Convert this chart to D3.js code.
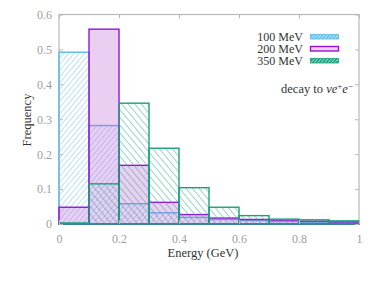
<!DOCTYPE html>
<html>
<head>
<meta charset="utf-8">
<script src="https://cdn.jsdelivr.net/npm/d3@7"></script>
<style>
  body { margin: 0; background: #fff; }
  svg text { font-family: "Liberation Serif", "DejaVu Serif", serif; }
</style>
</head>
<body>
<div id="chart"></div>
<script>
// bin lower edges (GeV), bins are 0.1 wide
const binStarts = [0, 0.1, 0.2, 0.3, 0.4, 0.5, 0.6, 0.7, 0.8, 0.9];
const binWidth = 0.1;

const freq100 = [0.492, 0.282, 0.058, 0.032, 0.019, 0.013, 0.010, 0.007, 0.005, 0.004];
const freq200 = [0.048, 0.558, 0.168, 0.062, 0.027, 0.017, 0.013, 0.011, 0.008, 0.006];
const freq350 = [0.003, 0.115, 0.346, 0.217, 0.104, 0.048, 0.024, 0.014, 0.012, 0.009];

const seriesNames = ["100 MeV", "200 MeV", "350 MeV"];
const xTicks = [0, 0.2, 0.4, 0.6, 0.8, 1];
const yTicks = [0, 0.1, 0.2, 0.3, 0.4, 0.5, 0.6];

const width = 374, height = 281;
const margin = { top: 14.5, right: 15, bottom: 57, left: 59 };
const innerWidth = width - margin.left - margin.right;
const innerHeight = height - margin.top - margin.bottom;

const svg = d3.select("#chart").append("svg")
  .attr("width", width)
  .attr("height", height);

const defs = svg.append("defs");

function hatch(id, color, angle, gap, bg) {
  const p = defs.append("pattern")
    .attr("id", id)
    .attr("patternUnits", "userSpaceOnUse")
    .attr("width", gap).attr("height", gap)
    .attr("patternTransform", "rotate(" + angle + ")");
  if (bg) p.append("rect").attr("width", gap).attr("height", gap).attr("fill", bg);
  p.append("line")
    .attr("x1", 0).attr("y1", 0).attr("x2", 0).attr("y2", gap)
    .attr("stroke", color).attr("stroke-width", 1);
}
hatch("hatch-blue", "#74c6f0", 40, 4);
hatch("hatch-green", "#2fb08a", -40, 5);
hatch("hatch-blue-leg", "#ffffff", 40, 2.6, "#6cc3ee");
hatch("hatch-green-leg", "#ffffff", 40, 2.6, "#1fa57f");

const g = svg.append("g").attr("transform", `translate(${margin.left},${margin.top})`);

const x = d3.scaleLinear().domain([0, 1]).range([0, innerWidth]);
const y = d3.scaleLinear().domain([0, 0.6]).range([innerHeight, 0]);

// frame
g.append("rect")
  .attr("width", innerWidth).attr("height", innerHeight)
  .attr("fill", "none").attr("stroke", "#b8b8b8").attr("stroke-width", 1.2);

const series = [
  { name: seriesNames[0], values: freq100, stroke: "#5ab8e8", fill: "url(#hatch-blue)", sw: 1.4 },
  { name: seriesNames[1], values: freq200, stroke: "#9a12d8", fill: "rgba(185,95,215,0.3)", sw: 1.4 },
  { name: seriesNames[2], values: freq350, stroke: "#1aa07a", fill: "url(#hatch-green)", sw: 1.4 }
];

series.forEach(s => {
  g.append("g").selectAll("rect")
    .data(binStarts.map((b, i) => ({ b, v: s.values[i] })))
    .join("rect")
    .attr("x", d => x(d.b))
    .attr("width", d => x(d.b + binWidth) - x(d.b))
    .attr("y", d => y(d.v))
    .attr("height", d => y(0) - y(d.v))
    .attr("fill", s.fill)
    .attr("stroke", s.stroke)
    .attr("stroke-width", s.sw);
});

// axes (ticks inward, mirrored)
const tickStyle = sel => {
  sel.attr("font-family", null).attr("font-size", null);
  sel.select(".domain").remove();
  sel.selectAll(".tick line").attr("stroke", "#b8b8b8");
  sel.selectAll(".tick text").attr("fill", "#a0a0a0").attr("font-size", 12);
};
const mirrorStyle = sel => {
  sel.select(".domain").remove();
  sel.selectAll(".tick line").attr("stroke", "#b8b8b8");
  sel.selectAll(".tick text").remove();
};
g.append("g").attr("transform", `translate(0,${innerHeight})`)
  .call(d3.axisBottom(x).tickValues(xTicks).tickSize(-4).tickPadding(10).tickFormat(d3.format("~g")))
  .call(tickStyle);
g.append("g")
  .call(d3.axisTop(x).tickValues(xTicks).tickSize(-4))
  .call(mirrorStyle);
g.append("g")
  .call(d3.axisLeft(y).tickValues(yTicks).tickSize(-4).tickPadding(7).tickFormat(d3.format("~g")))
  .call(tickStyle);
g.append("g").attr("transform", `translate(${innerWidth},0)`)
  .call(d3.axisRight(y).tickValues(yTicks).tickSize(-4))
  .call(mirrorStyle);

// axis titles
svg.append("text")
  .attr("x", 203).attr("y", 257)
  .attr("text-anchor", "middle").attr("font-size", 12.5).attr("fill", "#333")
  .text("Energy (GeV)");
svg.append("text")
  .attr("transform", "translate(31,120) rotate(-90)")
  .attr("text-anchor", "middle").attr("font-size", 12.5).attr("fill", "#333")
  .text("Frequency");

// legend
const legFills = ["url(#hatch-blue-leg)", "rgba(185,95,215,0.3)", "url(#hatch-green-leg)"];
const leg = svg.append("g");
series.forEach((s, i) => {
  const yy = 41 + i * 12;
  leg.append("text")
    .attr("x", 303).attr("y", yy)
    .attr("text-anchor", "end").attr("font-size", 12).attr("fill", "#333")
    .text(s.name);
  leg.append("rect")
    .attr("x", 310.5).attr("y", yy - 6.5)
    .attr("width", 28).attr("height", 4.5)
    .attr("fill", legFills[i])
    .attr("stroke", s.stroke).attr("stroke-width", i === 1 ? 1.4 : 0.8);
});
const note = svg.append("text")
  .attr("x", 353).attr("y", 93)
  .attr("text-anchor", "end").attr("font-size", 12.5).attr("fill", "#333");
note.append("tspan").text("decay to ");
note.append("tspan").attr("font-style", "italic").text("νe");
note.append("tspan").attr("dy", -4).attr("font-size", 9).text("+");
note.append("tspan").attr("dy", 4).attr("font-style", "italic").text("e");
note.append("tspan").attr("dy", -4).attr("font-size", 9).text("−");
</script>
</body>
</html>
